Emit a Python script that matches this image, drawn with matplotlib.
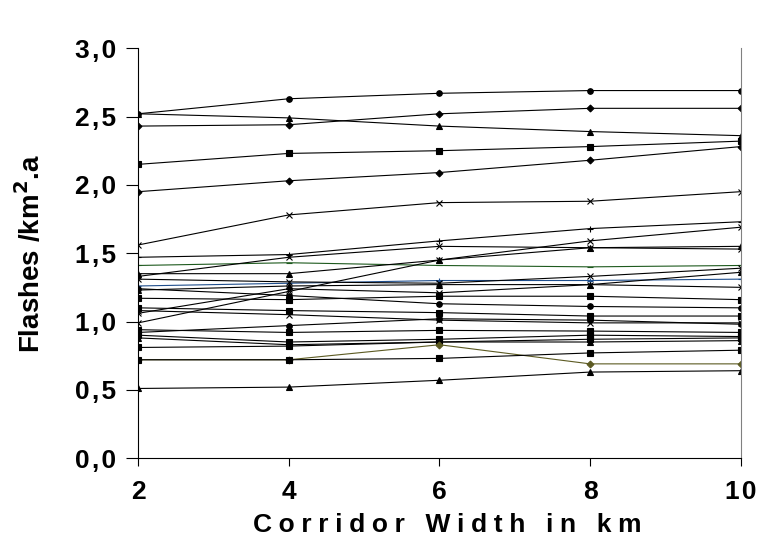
import matplotlib
matplotlib.use("Agg")
import matplotlib.pyplot as plt

plt.rcParams['font.family'] = ['Liberation Sans', 'DejaVu Sans']

# Corridor width (km)
widths = [2, 4, 6, 8, 10]

# flash density per corridor line (flashes/km2.a)
s01 = [2.52, 2.63, 2.67, 2.69, 2.69]
s02 = [2.52, 2.49, 2.43, 2.39, 2.36]
s03 = [2.43, 2.44, 2.52, 2.56, 2.56]
s04 = [2.15, 2.23, 2.25, 2.28, 2.32]
s05 = [1.95, 2.03, 2.09, 2.18, 2.28]
s06 = [1.56, 1.78, 1.87, 1.88, 1.95]
s07 = [1.47, 1.49, 1.59, 1.68, 1.73]
s08 = [1.41, 1.43, 1.41, 1.40, 1.41]   # green
s09 = [1.33, 1.47, 1.55, 1.54, 1.53]
s10 = [1.26, 1.28, 1.30, 1.30, 1.31]   # blue
s11 = [1.35, 1.35, 1.45, 1.54, 1.55]
s12 = [0.99, 1.22, 1.45, 1.59, 1.69]
s13 = [1.31, 1.29, 1.28, 1.33, 1.39]
s14 = [1.23, 1.26, 1.27, 1.27, 1.36]
s15 = [1.24, 1.19, 1.13, 1.11, 1.10]
s16 = [1.06, 1.24, 1.21, 1.27, 1.25]
s17 = [1.17, 1.16, 1.185, 1.185, 1.16]
s18 = [1.10, 1.08, 1.065, 1.04, 1.04]
s19 = [1.08, 1.05, 1.01, 0.99, 0.99]
s20 = [0.92, 0.97, 1.02, 1.01, 0.98]
s21 = [0.94, 0.92, 0.935, 0.93, 0.92]
s22 = [0.90, 0.85, 0.87, 0.90, 0.89]
s23 = [0.88, 0.83, 0.85, 0.85, 0.86]
s24 = [0.81, 0.82, 0.85, 0.87, 0.88]
s25 = [0.72, 0.72, 0.83, 0.69, 0.69]   # olive
s26 = [0.72, 0.72, 0.73, 0.77, 0.79]
s27 = [0.51, 0.52, 0.57, 0.63, 0.64]

yticks = [0.0, 0.5, 1.0, 1.5, 2.0, 2.5, 3.0]

# (serie, marker, color)
lines = [
    (s01, 'o', 'black'), (s02, '^', 'black'), (s03, 'D', 'black'),
    (s04, 's', 'black'), (s05, 'D', 'black'), (s06, 'x', 'black'),
    (s07, '+', 'black'), (s08, '_', '#1e5a1e'), (s09, 'x', 'black'),
    (s10, '+', '#1f4e8c'), (s11, '^', 'black'), (s12, 'x', 'black'),
    (s13, 'x', 'black'), (s14, '^', 'black'), (s15, 'o', 'black'),
    (s16, 'x', 'black'), (s17, 's', 'black'), (s18, 's', 'black'),
    (s19, 'x', 'black'), (s20, 'o', 'black'), (s21, 's', 'black'),
    (s22, 's', 'black'), (s23, '^', 'black'), (s24, 's', 'black'),
    (s25, 'D', '#5c5a22'), (s26, 's', 'black'), (s27, '^', 'black'),
]


def spaced(txt, sp='\u200a'):
    # extra letter spacing like the original
    return sp.join(txt)


fig = plt.figure(figsize=(7.59, 5.54), dpi=100)
ax = fig.add_axes([0.182, 0.173, 0.794, 0.740])

for vals, mk, col in lines:
    ms = 4.5 if mk in ('x', '+', '_') else 4
    if mk == 'D':
        ms = 3.5
    ax.plot(widths, vals, color=col, lw=0.8, marker=mk, ms=ms,
            mew=0.8, mfc=col, mec=col)

ax.set_xlim(2, 10)
ax.set_ylim(0, 3)
ax.set_xticks(widths)
ax.set_xticklabels([spaced(str(w)) for w in widths])
ax.set_yticks(yticks)
ax.set_yticklabels([spaced(f"{v:.1f}".replace('.', ',')) for v in yticks])

ax.spines['top'].set_visible(False)
ax.spines['right'].set_color('#808080')
ax.tick_params(axis='y', direction='out', length=9, width=0.8,
               labelsize=19, pad=7)
ax.tick_params(axis='x', direction='out', length=6, width=0.8,
               labelsize=19, pad=10)
for lab in ax.get_xticklabels() + ax.get_yticklabels():
    lab.set_fontweight('bold')

fig.text(0.589, 0.052, spaced("Corridor Width in km", '\u2005'),
         ha='center', va='center', fontsize=19, fontweight='bold')
fig.text(0.040, 0.543, "Flashes /km$^\\mathbf{2}$.a", rotation=90,
         ha='center', va='center', fontsize=20, fontweight='bold')

fig.savefig("out.png", dpi=100)
